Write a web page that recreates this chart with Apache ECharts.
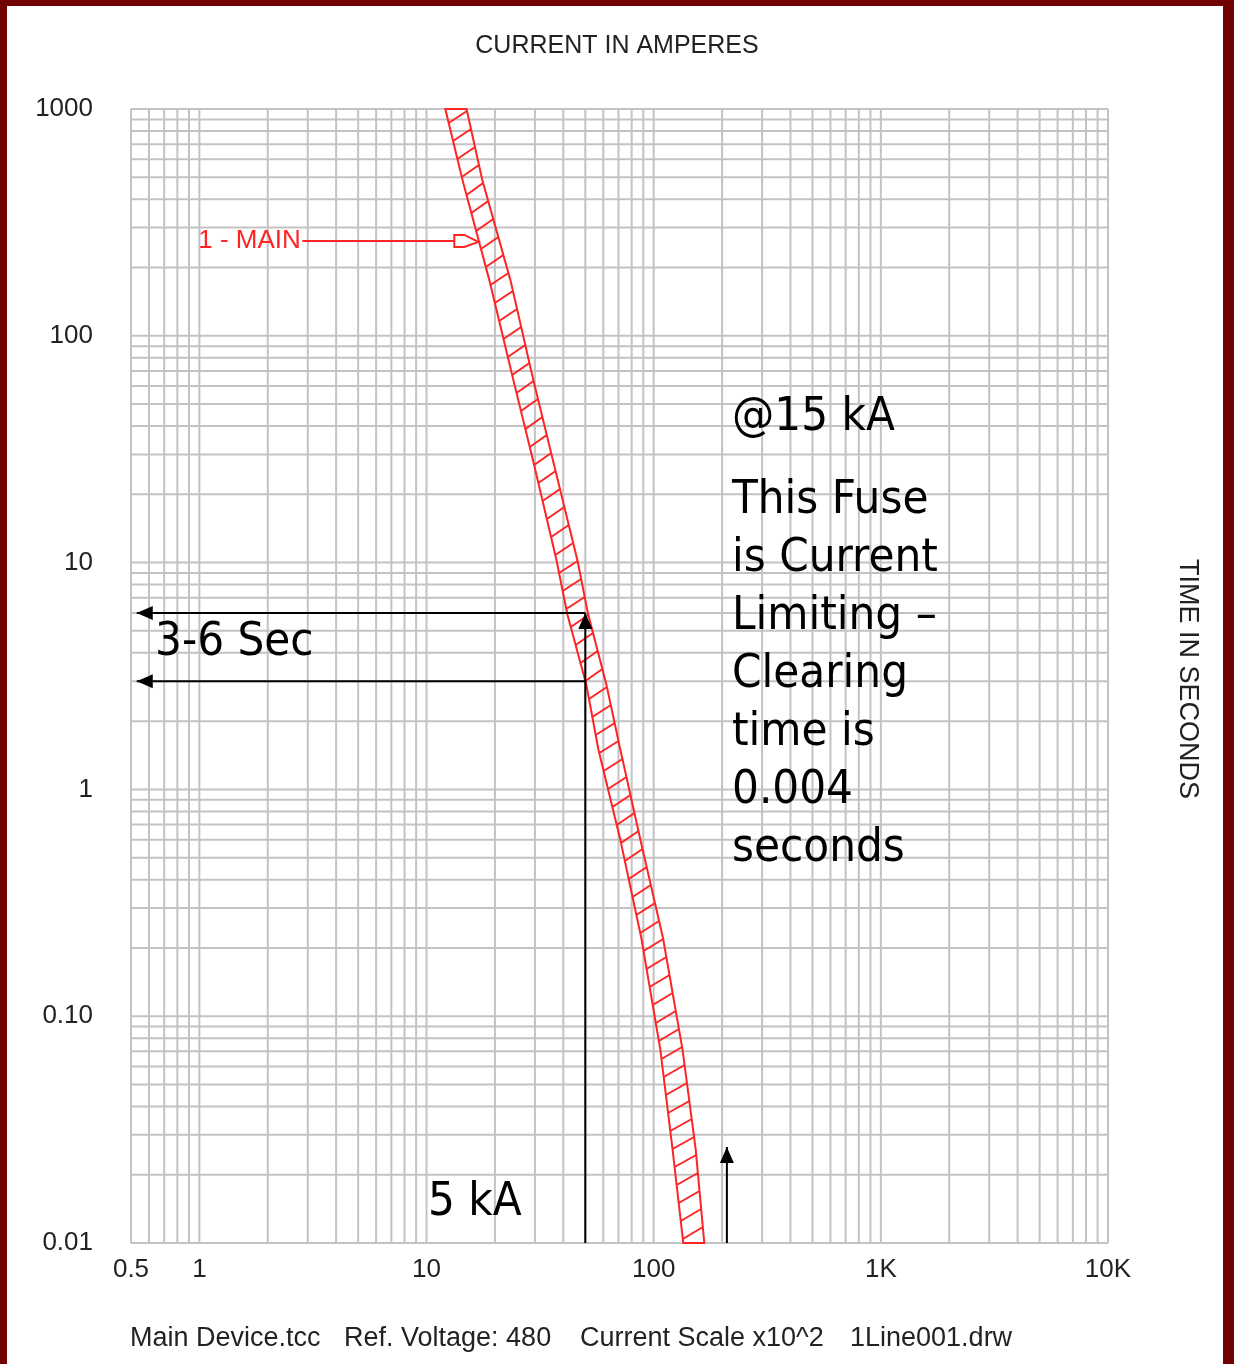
<!DOCTYPE html>
<html>
<head>
<meta charset="UTF-8">
<title>Main Device TCC</title>
<script src="https://cdn.jsdelivr.net/npm/echarts@6.0.0/dist/echarts.min.js"></script>
<style>
html, body { margin: 0; padding: 0; background: #fff; }
#main { width: 1234px; height: 1364px; }
</style>
</head>
<body>
<div id="main"></div>
<script type="text/javascript">
// fuse band: time in seconds vs current (A x10^2)
var bandTime    = [1000, 486, 176, 64, 28, 10.3, 5.9, 2.9, 1.5, 0.6, 0.22, 0.071, 0.026, 0.01];
var bandMinAmps = [12.1, 14.4, 18.9, 24.1, 29.5, 37.3, 41.7, 50.5, 57.1, 71.3, 88.3, 107, 121, 135];
var bandMaxAmps = [15.0, 17.6, 23.4, 29.5, 36.1, 46.1, 51.5, 61.9, 71.3, 87.4, 110, 134, 153, 167];

var xTickValues = [0.5, 1, 10, 100, 1000, 10000];
var xTickLabels = ['0.5', '1', '10', '100', '1K', '10K'];
var yTickValues = [0.01, 0.1, 1, 10, 100, 1000];
var yTickLabels = ['0.01', '0.10', '1', '10', '100', '1000'];

// annotation points
var faultAmps = 50;          // 5 kA
var arrowEndAmps = 0.53;
var clearTimes = [6, 3];     // 3-6 sec
var limitAmps = 210;         // @15 kA arrow
var limitArrowTop = 0.0265;
var mainTip = [16.9, 262];   // where "1 - MAIN" points

var xMin = 0.5, xMax = 10000, yMin = 0.01, yMax = 1000;
var RED = '#ff2424';
var GRID = '#c3c3c3';
var bigFont = '47px "DejaVu Sans Condensed", "DejaVu Sans", sans-serif';
var smallFont = '"Liberation Sans", Arial, sans-serif';

// log grid: 1..9 in every decade
var xGrid = [0.5, 0.6, 0.7, 0.8, 0.9];
var yGrid = [];
for (var d = 0; d <= 3; d++) {
    for (var k = 1; k <= 9; k++) xGrid.push(k * Math.pow(10, d));
}
xGrid.push(10000);
for (var d = -2; d <= 2; d++) {
    for (var k = 1; k <= 9; k++) yGrid.push(+(k * Math.pow(10, d)).toPrecision(3));
}
yGrid.push(1000);

function pickLabel(values, labels, v) {
    var best = 0;
    for (var i = 1; i < values.length; i++) {
        if (Math.abs(Math.log10(values[i] / v)) < Math.abs(Math.log10(values[best] / v))) best = i;
    }
    return labels[best];
}

function xAtY(pts, y) {
    for (var i = 0; i < pts.length - 1; i++) {
        var a = pts[i], b = pts[i + 1];
        if (y >= a[1] && y <= b[1]) {
            var t = (y - a[1]) / (b[1] - a[1]);
            return a[0] + t * (b[0] - a[0]);
        }
    }
    return y < pts[0][1] ? pts[0][0] : pts[pts.length - 1][0];
}

function arrowHead(tip, from, color) {
    var dx = tip[0] - from[0], dy = tip[1] - from[1];
    var len = Math.sqrt(dx * dx + dy * dy);
    var ux = dx / len, uy = dy / len;
    var L = 16, W = 7;
    var bx = tip[0] - ux * L, by = tip[1] - uy * L;
    return {
        type: 'polygon',
        shape: { points: [tip, [bx - uy * W, by + ux * W], [bx + uy * W, by - ux * W]] },
        style: { fill: color }
    };
}

var myChart = echarts.init(document.getElementById('main'));
myChart.setOption({
    animation: false,
    backgroundColor: '#ffffff',
    grid: { left: 131, right: 126, top: 109, bottom: 121, containLabel: false },
    xAxis: {
        type: 'log', logBase: 10, min: xMin, max: xMax,
        axisLine: { show: false }, axisTick: { show: false },
        splitLine: { show: false }, minorSplitLine: { show: false },
        axisLabel: {
            customValues: xTickValues,
            margin: 14,
            fontFamily: smallFont, fontSize: 26, color: '#222',
            formatter: function (v) { return pickLabel(xTickValues, xTickLabels, v); }
        }
    },
    yAxis: {
        type: 'log', logBase: 10, min: yMin, max: yMax,
        axisLine: { show: false }, axisTick: { show: false },
        splitLine: { show: false }, minorSplitLine: { show: false },
        axisLabel: {
            customValues: yTickValues,
            margin: 38,
            fontFamily: smallFont, fontSize: 26, color: '#222',
            formatter: function (v) { return pickLabel(yTickValues, yTickLabels, v); }
        }
    },
    series: [{
        // grid lines
        type: 'custom', silent: true, z: 1, data: [[1, 1]],
        renderItem: function (params, api) {
            var kids = [];
            var lo = api.coord([xMin, yMin]), hi = api.coord([xMax, yMax]);
            xGrid.forEach(function (v) {
                var p = api.coord([v, yMin]);
                kids.push({ type: 'line', shape: { x1: p[0], y1: lo[1], x2: p[0], y2: hi[1] }, style: { stroke: GRID, lineWidth: 2 } });
            });
            yGrid.forEach(function (v) {
                var p = api.coord([xMin, v]);
                kids.push({ type: 'line', shape: { x1: lo[0], y1: p[1], x2: hi[0], y2: p[1] }, style: { stroke: GRID, lineWidth: 2 } });
            });
            return { type: 'group', children: kids };
        }
    }, {
        // hatched fuse band
        type: 'custom', silent: true, z: 3, clip: false, data: [[1, 1]],
        renderItem: function (params, api) {
            var left = bandTime.map(function (t, i) { return api.coord([bandMinAmps[i], t]); });
            var right = bandTime.map(function (t, i) { return api.coord([bandMaxAmps[i], t]); });
            var kids = [{
                type: 'polygon',
                shape: { points: left.concat(right.slice().reverse()) },
                style: { fill: 'none', stroke: RED, lineWidth: 2 }
            }];
            var top = left[0][1], bottom = left[left.length - 1][1];
            for (var y = top + 14; y <= bottom; y += 18) {
                var y2 = y - 12;
                if (y2 < top) continue;
                kids.push({ type: 'line', shape: { x1: xAtY(left, y), y1: y, x2: xAtY(right, y2), y2: y2 }, style: { stroke: RED, lineWidth: 2 } });
            }
            // "1 - MAIN" pointer
            var tip = api.coord(mainTip);
            var tx = tip[0], ty = tip[1];
            kids.push({ type: 'line', shape: { x1: tx - 176, y1: ty, x2: tx - 24, y2: ty }, style: { stroke: RED, lineWidth: 2 } });
            kids.push({
                type: 'polygon',
                shape: { points: [[tx - 24, ty - 6], [tx - 14, ty - 6], [tx, ty + 1], [tx - 14, ty + 6], [tx - 24, ty + 6]] },
                style: { fill: '#fff', stroke: RED, lineWidth: 2 }
            });
            kids.push({
                type: 'text',
                style: { x: tx - 280, y: ty, text: '1 - MAIN', font: '26px ' + smallFont, fill: RED, verticalAlign: 'middle' }
            });
            return { type: 'group', children: kids };
        }
    }, {
        // black annotation arrows
        type: 'custom', silent: true, z: 4, clip: false, data: [[1, 1]],
        renderItem: function (params, api) {
            var kids = [];
            function arrow(from, to) {
                var a = api.coord(from), b = api.coord(to);
                kids.push({ type: 'line', shape: { x1: a[0], y1: a[1], x2: b[0], y2: b[1] }, style: { stroke: '#000', lineWidth: 2 } });
                kids.push(arrowHead(b, a, '#000'));
            }
            arrow([faultAmps, yMin], [faultAmps, clearTimes[0]]);
            clearTimes.forEach(function (t) { arrow([faultAmps, t], [arrowEndAmps, t]); });
            arrow([limitAmps, yMin], [limitAmps, limitArrowTop]);
            return { type: 'group', children: kids };
        }
    }],
    graphic: [
        { type: 'rect', shape: { x: 0, y: 0, width: 1234, height: 6 }, style: { fill: '#720000' } },
        { type: 'rect', shape: { x: 0, y: 0, width: 7, height: 1364 }, style: { fill: '#720000' } },
        { type: 'rect', shape: { x: 1223, y: 0, width: 11, height: 1364 }, style: { fill: '#720000' } },
        { type: 'text', x: 617, y: 46, style: { text: 'CURRENT IN AMPERES', font: '25px ' + smallFont, fill: '#222', align: 'center', verticalAlign: 'middle' } },
        { type: 'text', x: 1187, y: 679, rotation: -Math.PI / 2, style: { text: 'TIME IN SECONDS', font: '27px ' + smallFont, fill: '#222', align: 'center', verticalAlign: 'middle' } },
        { type: 'text', x: 130, y: 1339, style: { text: 'Main Device.tcc', font: '27px ' + smallFont, fill: '#222', verticalAlign: 'middle' } },
        { type: 'text', x: 344, y: 1339, style: { text: 'Ref. Voltage: 480', font: '27px ' + smallFont, fill: '#222', verticalAlign: 'middle' } },
        { type: 'text', x: 580, y: 1339, style: { text: 'Current Scale x10^2', font: '27px ' + smallFont, fill: '#222', verticalAlign: 'middle' } },
        { type: 'text', x: 850, y: 1339, style: { text: '1Line001.drw', font: '27px ' + smallFont, fill: '#222', verticalAlign: 'middle' } },
        { type: 'text', x: 732, y: 418, z: 10, style: { text: '@15 kA', font: bigFont, fill: '#000', verticalAlign: 'middle' } },
        { type: 'text', x: 732, y: 472, z: 10, style: { text: 'This Fuse\nis Current\nLimiting \u2013\nClearing\ntime is\n0.004\nseconds', font: bigFont, lineHeight: 58, fill: '#000', verticalAlign: 'top' } },
        { type: 'text', x: 155, y: 643, z: 10, style: { text: '3-6 Sec', font: bigFont, fill: '#000', verticalAlign: 'middle' } },
        { type: 'text', x: 428, y: 1203, z: 10, style: { text: '5 kA', font: bigFont, fill: '#000', verticalAlign: 'middle' } }
    ]
});
</script>
</body>
</html>
